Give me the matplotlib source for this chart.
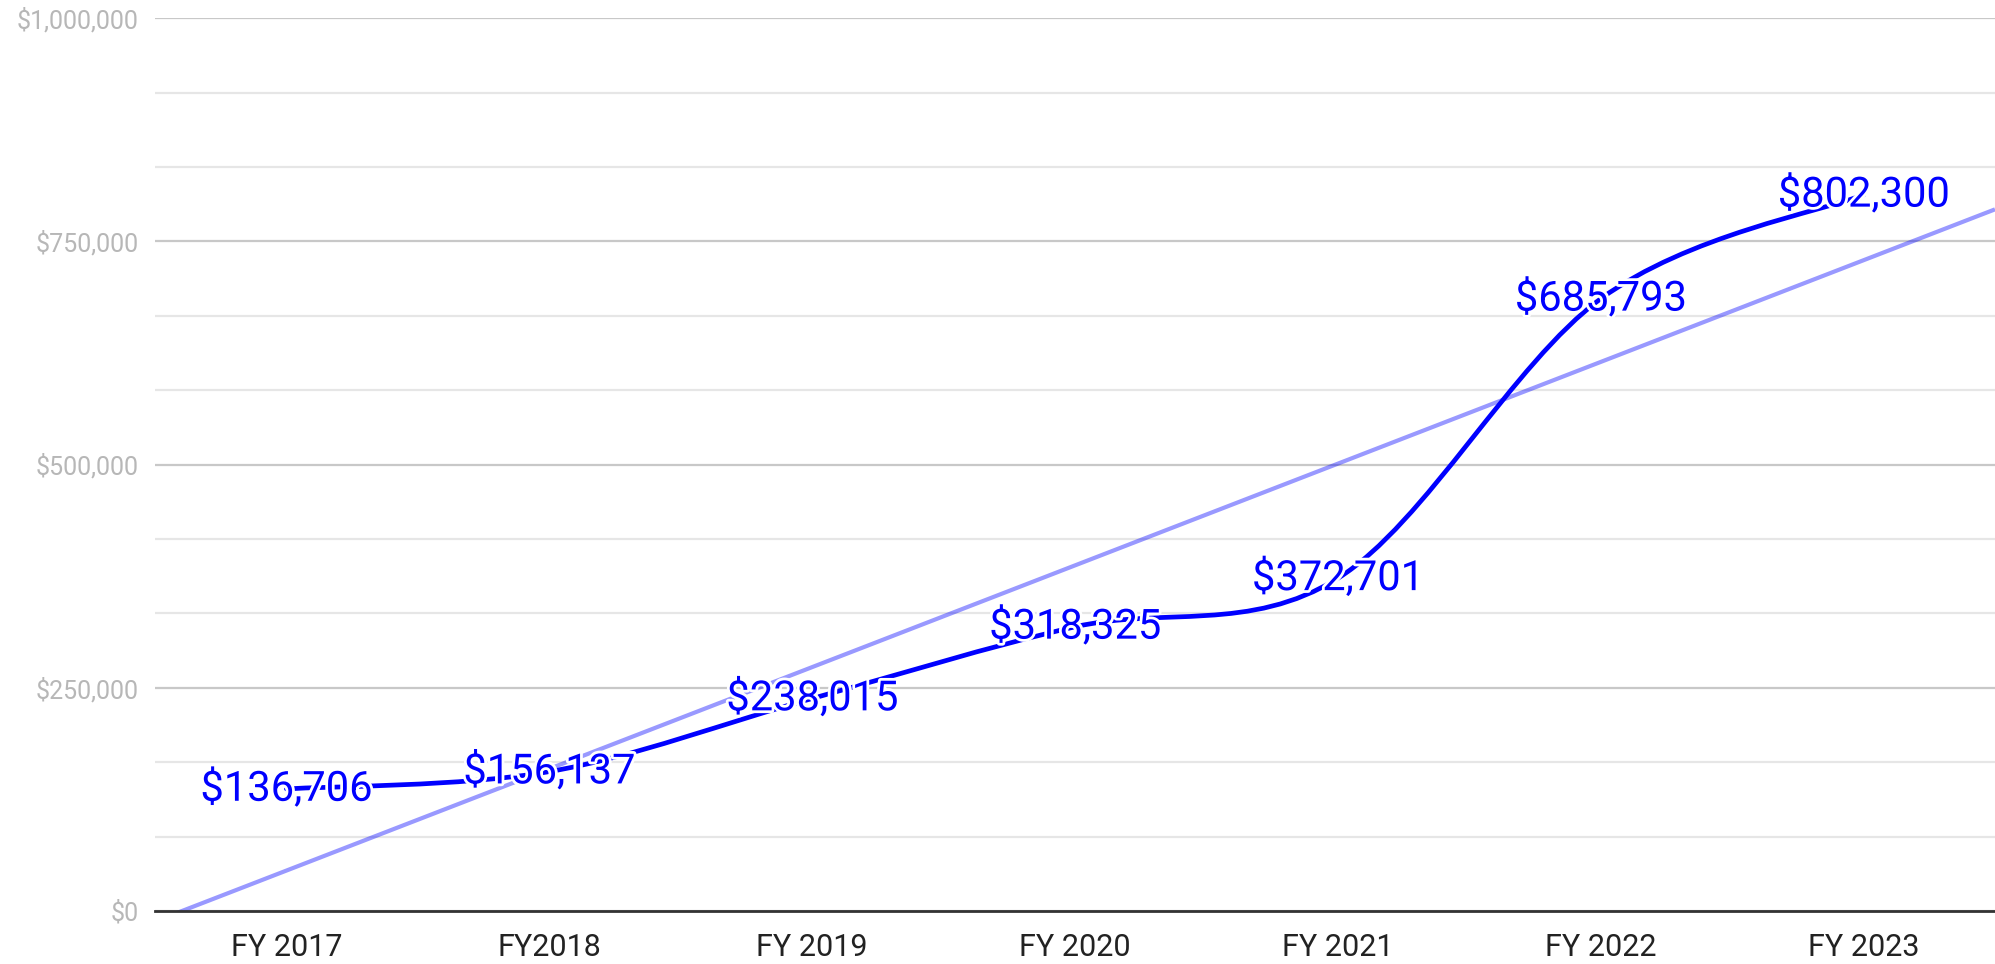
import numpy as np
import matplotlib
matplotlib.use("Agg")
import matplotlib.pyplot as plt
import matplotlib.patheffects as pe
from matplotlib.path import Path
from matplotlib.patches import PathPatch
from matplotlib.ticker import FuncFormatter, MultipleLocator

plt.rcParams['font.family'] = ['Roboto', 'DejaVu Sans']

years = ["FY 2017", "FY2018", "FY 2019", "FY 2020", "FY 2021", "FY 2022", "FY 2023"]
revenue = [136706, 156137, 238015, 318325, 372701, 685793, 802300]

x = np.arange(len(years))
y = np.array(revenue, dtype=float)

fig = plt.figure(figsize=(19.95, 9.64), dpi=100)
ax = fig.add_axes([0.0777, 0.055, 0.9223, 0.926])

ax.set_xlim(-0.5, len(years) - 0.5)
ax.set_ylim(0, 1000000)

# grid: major every 250k, 2 minor lines between
ax.yaxis.set_major_locator(MultipleLocator(250000))
ax.yaxis.set_minor_locator(MultipleLocator(250000 / 3))
ax.grid(axis='y', which='major', color='#c8c8c8', linewidth=1.6, zorder=0)
ax.grid(axis='y', which='minor', color='#e6e6e6', linewidth=1.6, zorder=0)
ax.axhline(0, color='#333333', linewidth=2.0, zorder=5, clip_on=False)

for s in ax.spines.values():
    s.set_visible(False)

ax.yaxis.set_major_formatter(FuncFormatter(lambda v, p: f"${v:,.0f}"))
ax.tick_params(axis='y', which='both', length=0, pad=12, labelsize=18, labelcolor='#b7b7b7')
ax.set_xticks(x)
ax.set_xticklabels(years)
ax.tick_params(axis='x', length=0, pad=16, labelsize=22, labelcolor='#222222')

# trendline (linear fit)
k, b = np.polyfit(x, y, 1)
tx = np.array([-0.5, len(years) - 0.5])
ax.plot(tx, k * tx + b, color='#0000ff', alpha=0.4, linewidth=3, zorder=2,
        solid_capstyle='butt')

# smoothed line as cubic bezier path through the points
pts = np.column_stack([x, y])
ext = np.vstack([pts[0], pts, pts[-1]])
verts = [tuple(pts[0])]
codes = [Path.MOVETO]
for i in range(len(pts) - 1):
    p0, p1, p2, p3 = ext[i], ext[i + 1], ext[i + 2], ext[i + 3]
    c1 = p1 + (p2 - p0) / 6
    c2 = p2 - (p3 - p1) / 6
    verts += [tuple(c1), tuple(c2), tuple(p2)]
    codes += [Path.CURVE4, Path.CURVE4, Path.CURVE4]
ax.add_patch(PathPatch(Path(verts, codes), facecolor='none', edgecolor='#0000ff',
                       linewidth=3.4, zorder=3, capstyle='round'))

for xi, yi in zip(x, y):
    ax.text(xi, yi, f"${yi:,.0f}", ha='center', va='center', fontsize=30,
            color='#0000ff', zorder=4,
            path_effects=[pe.withStroke(linewidth=4, foreground='white')])

fig.savefig("out.png", dpi=100, facecolor='white')
